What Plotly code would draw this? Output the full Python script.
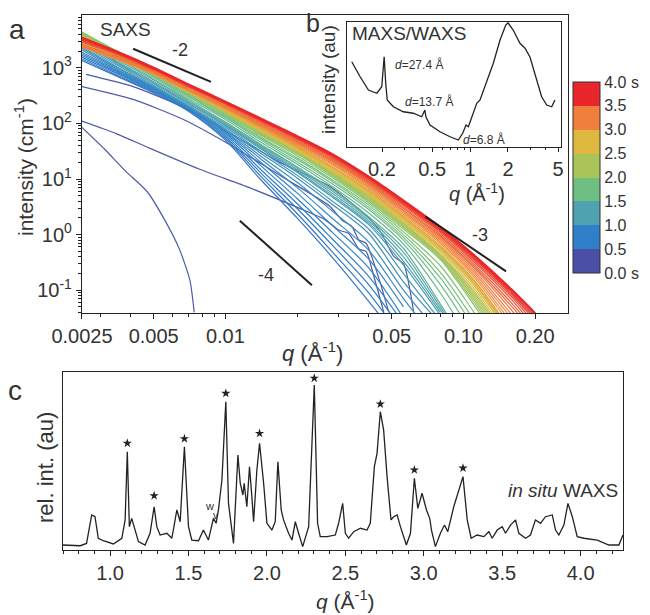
import plotly.graph_objects as go
from plotly.colors import sample_colorscale

W, H = 650, 615
OFF = 8   # page body margin, figure starts 8 px in
FONT = 'Arial, Liberation Sans, sans-serif'
TXT = '#333333'

# ---- panel a: SAXS growth curves ----
q_grid = [0.0025, 0.0035, 0.005, 0.007, 0.01, 0.014, 0.02, 0.028, 0.04, 0.056, 0.08, 0.11, 0.16, 0.22]

# time (s) of each later curve, log10 intensity read on q_grid
fan_times = [0.6, 0.65, 0.7, 0.75, 0.8, 0.85, 0.9, 0.95, 1.0, 1.07, 1.15, 1.22, 1.3, 1.4, 1.5,
             1.6, 1.7, 1.78, 1.85, 1.93, 2.0, 2.07, 2.15, 2.22, 2.3, 2.4, 2.5, 2.58, 2.65, 2.72,
             2.8, 2.9, 3.0, 3.08, 3.15, 3.22, 3.3, 3.4, 3.5, 3.57, 3.65, 3.72, 3.8, 3.85, 3.9, 4.0]
fan_logI = [
    [3.13, 2.85, 2.55, 2.22, 1.70, 1.00, 0.30, -0.40, -1.20, -2.0],
    [3.16, 2.87, 2.57, 2.23, 1.73, 1.06, 0.38, -0.30, -1.05, -1.9],
    [3.19, 2.90, 2.59, 2.25, 1.76, 1.12, 0.47, -0.18, -0.90, -1.75],
    [3.22, 2.92, 2.60, 2.26, 1.79, 1.18, 0.56, -0.07, -0.75, -1.6],
    [3.25, 2.94, 2.62, 2.28, 1.82, 1.25, 0.65, 0.05, -0.60, -1.5],
    [3.28, 2.96, 2.63, 2.28, 1.84, 1.31, 0.75, 0.17, -0.44, -1.3],
    [3.32, 2.98, 2.64, 2.29, 1.86, 1.37, 0.85, 0.30, -0.28, -1.15, -2.0],
    [3.35, 3.00, 2.65, 2.30, 1.88, 1.42, 0.94, 0.43, -0.13, -1.0, -1.8],
    [3.38, 3.02, 2.66, 2.30, 1.90, 1.47, 1.02, 0.55, 0.02, -0.85, -1.6],
    [3.41, 3.05, 2.68, 2.32, 1.93, 1.51, 1.07, 0.61, 0.10, -0.70, -1.55],
    [3.45, 3.08, 2.71, 2.35, 1.96, 1.55, 1.12, 0.68, 0.18, -0.55, -1.45],
    [3.48, 3.10, 2.73, 2.36, 1.97, 1.57, 1.14, 0.71, 0.21, -0.48, -1.40],
    [3.51, 3.12, 2.75, 2.38, 1.99, 1.59, 1.17, 0.75, 0.25, -0.40, -1.35, -2.2],
    [3.55, 3.15, 2.78, 2.40, 2.01, 1.61, 1.20, 0.79, 0.29, -0.32, -1.30, -2.2],
    [3.58, 3.18, 2.80, 2.42, 2.03, 1.63, 1.22, 0.82, 0.32, -0.25, -1.25, -2.2],
    [3.60, 3.21, 2.83, 2.45, 2.07, 1.67, 1.27, 0.87, 0.39, -0.17, -1.05, -2.0],
    [3.62, 3.23, 2.85, 2.48, 2.10, 1.71, 1.31, 0.92, 0.45, -0.10, -0.90, -1.80],
    [3.63, 3.25, 2.87, 2.50, 2.12, 1.74, 1.35, 0.96, 0.49, -0.05, -0.78, -1.65],
    [3.64, 3.27, 2.89, 2.52, 2.14, 1.76, 1.38, 0.99, 0.53, 0.00, -0.68, -1.52],
    [3.64, 3.29, 2.91, 2.54, 2.16, 1.79, 1.42, 1.03, 0.57, 0.05, -0.56, -1.38, -2.4],
    [3.64, 3.30, 2.93, 2.56, 2.18, 1.81, 1.45, 1.06, 0.60, 0.10, -0.45, -1.25, -2.3],
    [3.63, 3.30, 2.93, 2.57, 2.19, 1.83, 1.47, 1.08, 0.62, 0.13, -0.42, -1.20, -2.25],
    [3.61, 3.29, 2.93, 2.57, 2.20, 1.84, 1.48, 1.09, 0.64, 0.15, -0.40, -1.15, -2.2],
    [3.59, 3.28, 2.93, 2.57, 2.21, 1.85, 1.49, 1.10, 0.66, 0.17, -0.38, -1.11, -2.15],
    [3.57, 3.26, 2.92, 2.57, 2.21, 1.85, 1.49, 1.11, 0.67, 0.19, -0.37, -1.07, -2.1],
    [3.55, 3.24, 2.91, 2.56, 2.21, 1.86, 1.50, 1.12, 0.69, 0.21, -0.36, -1.03, -2.05],
    [3.52, 3.22, 2.90, 2.56, 2.21, 1.86, 1.50, 1.13, 0.70, 0.22, -0.35, -1.00, -2.0],
    [3.50, 3.21, 2.90, 2.57, 2.22, 1.88, 1.52, 1.15, 0.72, 0.25, -0.31, -0.95, -1.94],
    [3.47, 3.20, 2.89, 2.57, 2.23, 1.89, 1.54, 1.17, 0.74, 0.27, -0.28, -0.90, -1.88],
    [3.45, 3.19, 2.89, 2.57, 2.24, 1.90, 1.55, 1.19, 0.76, 0.29, -0.26, -0.87, -1.84],
    [3.42, 3.17, 2.88, 2.57, 2.24, 1.91, 1.56, 1.20, 0.77, 0.30, -0.24, -0.85, -1.80],
    [3.40, 3.16, 2.88, 2.58, 2.25, 1.92, 1.57, 1.22, 0.79, 0.32, -0.22, -0.82, -1.77],
    [3.38, 3.15, 2.88, 2.58, 2.26, 1.93, 1.58, 1.23, 0.80, 0.33, -0.20, -0.80, -1.75],
    [3.37, 3.15, 2.89, 2.59, 2.27, 1.95, 1.60, 1.26, 0.83, 0.36, -0.16, -0.75, -1.67],
    [3.37, 3.16, 2.90, 2.60, 2.28, 1.96, 1.62, 1.28, 0.85, 0.39, -0.13, -0.71, -1.60],
    [3.38, 3.17, 2.91, 2.61, 2.29, 1.97, 1.64, 1.30, 0.88, 0.42, -0.10, -0.67, -1.52, -2.3],
    [3.39, 3.19, 2.92, 2.62, 2.30, 1.98, 1.65, 1.32, 0.90, 0.44, -0.07, -0.63, -1.45, -2.2],
    [3.42, 3.21, 2.94, 2.64, 2.32, 2.00, 1.67, 1.34, 0.92, 0.47, -0.04, -0.59, -1.37, -2.1],
    [3.46, 3.24, 2.96, 2.66, 2.34, 2.02, 1.69, 1.36, 0.94, 0.49, -0.02, -0.56, -1.30, -2.0],
    [3.47, 3.25, 2.96, 2.66, 2.35, 2.04, 1.71, 1.38, 0.96, 0.52, 0.01, -0.52, -1.24, -1.95],
    [3.49, 3.26, 2.97, 2.67, 2.36, 2.05, 1.72, 1.40, 0.98, 0.54, 0.04, -0.48, -1.18, -1.9],
    [3.50, 3.26, 2.97, 2.67, 2.36, 2.06, 1.73, 1.41, 0.99, 0.55, 0.06, -0.45, -1.13, -1.82],
    [3.51, 3.27, 2.98, 2.68, 2.37, 2.07, 1.74, 1.42, 1.01, 0.57, 0.08, -0.42, -1.09, -1.75],
    [3.52, 3.27, 2.98, 2.68, 2.37, 2.07, 1.75, 1.43, 1.02, 0.58, 0.09, -0.40, -1.06, -1.70],
    [3.53, 3.28, 2.99, 2.69, 2.38, 2.08, 1.76, 1.44, 1.03, 0.59, 0.11, -0.39, -1.04, -1.65],
    [3.54, 3.29, 3.00, 2.70, 2.39, 2.09, 1.77, 1.45, 1.04, 0.61, 0.13, -0.36, -1.00, -1.6],
]

# first curves (before the fan), own q points
early_q = [
    [0.0025, 0.0031, 0.0038, 0.0047, 0.0055, 0.0064, 0.0071, 0.0074],
    [0.0025, 0.0035, 0.0048, 0.0078, 0.0126, 0.0204, 0.026, 0.030, 0.033, 0.0364, 0.039, 0.042, 0.0463],
    [0.0025, 0.0041, 0.0066, 0.0107, 0.0173, 0.0273, 0.031, 0.034, 0.0364, 0.039, 0.0442, 0.0486],
    [0.0026, 0.0041, 0.0066, 0.0107, 0.0173, 0.0273, 0.0401, 0.045, 0.0511, 0.056, 0.0618],
]
early_I = [
    [85, 35, 14, 5.9, 2.0, 0.56, 0.15, 0.04],
    [110, 65, 36, 15, 7.0, 3.0, 1.9, 1.2, 1.05, 0.55, 0.5, 0.18, 0.04],
    [460, 270, 120, 39, 11, 3.3, 1.8, 1.4, 0.8, 0.7, 0.16, 0.04],
    [760, 460, 200, 63, 19, 7.5, 2.0, 1.1, 0.4, 0.3, 0.04],
]

# slope guide lines (q, I)
guide_q = {'-2': [0.0041, 0.0087], '-4': [0.0115, 0.0231], '-3': [0.0693, 0.151]}
guide_I = {'-2': [2200, 560], '-4': [1.78, 0.123], '-3': [2.1, 0.218]}

# colour bar
cb_colors = ['#4b4fa6', '#2f7fc9', '#4fa3b0', '#6fbf82', '#a9c55a', '#dfb93f', '#f07f3c', '#e8262b']
cb_ticks = [0, 0.5, 1.0, 1.5, 2.0, 2.5, 3.0, 3.5, 4.0]
cb_text = ['0.0 s', '0.5', '1.0', '1.5', '2.0', '2.5', '3.0', '3.5', '4.0 s']

# ---- panel b: MAXS/WAXS inset ----
b_q = [0.115, 0.134, 0.156, 0.182, 0.199, 0.208, 0.214, 0.220, 0.246, 0.295, 0.354, 0.413, 0.438,
       0.446, 0.481, 0.577, 0.693, 0.807, 0.874, 0.929, 0.970, 1.06, 1.13, 1.2, 1.36, 1.53, 1.73,
       1.92, 2.0, 2.2, 2.49, 2.73, 2.99, 3.16, 3.38, 3.70, 4.06, 4.45, 4.72]
b_I = [68.2, 56.2, 45.6, 43, 48.2, 72.2, 51, 37.6, 32.2, 28.2, 27, 24.2, 29.6,
       24.2, 17.6, 12.2, 8.2, 5.6, 11, 17.6, 16.2, 27, 35, 37.6, 53.6, 67, 85.6,
       97.6, 99.4, 93.6, 83, 79, 72, 64, 53.6, 40.2, 33.6, 32.2, 37.6]

# ---- panel c: in situ WAXS ----
c_q = [0.70, 0.81, 0.85, 0.883, 0.904, 0.925, 0.957, 1.021, 1.075, 1.096, 1.11, 1.123, 1.138, 1.153,
       1.181, 1.223, 1.255, 1.281, 1.298, 1.319, 1.362, 1.394, 1.426, 1.447, 1.474, 1.50, 1.521,
       1.564, 1.595, 1.627, 1.659, 1.676, 1.691, 1.713, 1.738, 1.755, 1.787, 1.815, 1.83, 1.847,
       1.855, 1.872, 1.889, 1.904, 1.915, 1.936, 1.953, 1.979, 2.0, 2.032, 2.053, 2.07, 2.091,
       2.106, 2.138, 2.16, 2.181, 2.202, 2.228, 2.266, 2.302, 2.323, 2.34, 2.383, 2.436, 2.457,
       2.483, 2.50, 2.521, 2.553, 2.596, 2.638, 2.659, 2.685, 2.702, 2.723, 2.744, 2.766, 2.791,
       2.808, 2.83, 2.851, 2.889, 2.915, 2.94, 2.962, 2.989, 3.017, 3.038, 3.049, 3.074, 3.106,
       3.132, 3.153, 3.191, 3.25, 3.277, 3.302, 3.34, 3.383, 3.415, 3.436, 3.468, 3.50, 3.521,
       3.553, 3.585, 3.606, 3.649, 3.68, 3.712, 3.744, 3.776, 3.819, 3.84, 3.861, 3.893, 3.919,
       3.947, 3.978, 4.021, 4.106, 4.18, 4.244, 4.27]
c_I = [2.8, 2.4, 3.7, 19.7, 18.7, 6.6, 5.2, 3.4, 6.6, 16.9, 55.2, 13.1, 17.8, 13.1,
       4.7, 2.8, 9.4, 24.3, 13.1, 8.4, 9.4, 6.6, 22.5, 15.9, 58, 13.1, 5.6,
       5.2, 11.2, 5.6, 17.8, 15, 22.5, 39.3, 83.3, 26.2, 3.7, 53.4, 37.5, 30.9,
       37.5, 24.3, 46.8, 30, 15.9, 44.9, 60, 37.5, 15, 11.2, 15.9, 49.6, 22.5,
       16.9, 9.4, 5.6, 15.9, 9.4, 1.9, 13.1, 92.7, 15, 7.5, 7.5, 8.4, 15,
       26.2, 9.4, 6.6, 10.3, 12.2, 11.2, 15, 46.8, 54.3, 77.7, 67.4, 41.2, 16.9,
       18.7, 19.7, 13.1, 2.8, 9.4, 40.3, 23.4, 31.9, 22.5, 17.8, 11.2, 1.9, 9.4,
       14, 10.3, 24.3, 41.2, 16.9, 6.6, 8.4, 7.5, 10.3, 6.6, 11.2, 13.1, 9.4,
       14, 16.9, 9.4, 6.6, 8.4, 16.9, 15, 18.7, 19.7, 11.2, 8.4, 14, 26.2,
       18.7, 7.5, 6.6, 5.6, 2.8, 2.8, 8.4]
star_q = [1.11, 1.281, 1.474, 1.738, 1.953, 2.302, 2.723, 2.94, 3.25]
star_I = [60, 30.5, 62.5, 88, 65.5, 96.5, 82, 45, 46]

assert len(c_q) == len(c_I) and len(b_q) == len(b_I) and len(fan_times) == len(fan_logI)


def px(x):
    return (x - OFF) / W


def py(y):
    return 1 - (y - OFF) / H


line_scale = [[0.0, cb_colors[0]], [0.1875, cb_colors[1]], [0.3125, cb_colors[2]],
              [0.4375, cb_colors[3]], [0.5625, cb_colors[4]], [0.6875, cb_colors[5]],
              [0.8125, cb_colors[6]], [1.0, cb_colors[7]]]

fig = go.Figure()

for qs, Is in zip(early_q, early_I):
    fig.add_trace(go.Scatter(x=qs, y=Is, mode='lines',
                             line=dict(color='#4f5aa8', width=1.2, shape='spline', smoothing=0.6),
                             xaxis='x', yaxis='y', hoverinfo='skip', showlegend=False))

for t, logs in zip(fan_times, fan_logI):
    col = sample_colorscale(line_scale, t / 4.0)[0]
    w = 2.4 if t == 4.0 else 1.2
    fig.add_trace(go.Scatter(x=q_grid[:len(logs)], y=[10 ** v for v in logs], mode='lines',
                             line=dict(color=col, width=w, shape='spline', smoothing=0.8),
                             xaxis='x', yaxis='y', hoverinfo='skip', showlegend=False))

for k in guide_q:
    fig.add_trace(go.Scatter(x=guide_q[k], y=guide_I[k], mode='lines',
                             line=dict(color='#222222', width=2), xaxis='x', yaxis='y',
                             hoverinfo='skip', showlegend=False))

# discrete colour bar via a dummy trace
stops = []
for i, c in enumerate(cb_colors):
    stops.append([i / 8, c])
    stops.append([(i + 1) / 8, c])
fig.add_trace(go.Scatter(x=[None], y=[None], mode='markers', xaxis='x', yaxis='y', showlegend=False,
                         marker=dict(color=[0], colorscale=stops, cmin=0, cmax=4, showscale=True,
                                     colorbar=dict(x=px(573), xanchor='left', y=py(82), yanchor='top',
                                                   len=191, lenmode='pixels', thickness=27,
                                                   thicknessmode='pixels', xpad=0, ypad=0,
                                                   outlinewidth=1, outlinecolor='#333333',
                                                   tickvals=cb_ticks, ticktext=cb_text, ticks='',
                                                   tickfont=dict(size=16, color=TXT, family=FONT)))))

fig.add_trace(go.Scatter(x=b_q, y=b_I, mode='lines', line=dict(color='#222222', width=1.3),
                         xaxis='x2', yaxis='y2', hoverinfo='skip', showlegend=False))

fig.add_trace(go.Scatter(x=c_q, y=c_I, mode='lines', line=dict(color='#222222', width=1.3),
                         xaxis='x3', yaxis='y3', hoverinfo='skip', showlegend=False))
fig.add_trace(go.Scatter(x=star_q, y=star_I, mode='markers',
                         marker=dict(symbol='star', size=7, color='#222222'),
                         xaxis='x3', yaxis='y3', hoverinfo='skip', showlegend=False))

axis_common = dict(showline=True, mirror=True, linecolor='#222222', linewidth=1.3, showgrid=False,
                   zeroline=False, automargin=False, tickcolor='#222222',
                   tickfont=dict(size=20, color=TXT, family=FONT))

fig.update_layout(
    width=W, height=H, margin=dict(l=0, r=0, t=0, b=0),
    paper_bgcolor='white', plot_bgcolor='white', showlegend=False,
    font=dict(family=FONT, color=TXT),
    xaxis=dict(domain=[px(82), px(568)], anchor='y', type='log', range=[-2.602, -0.561],
               tickvals=[0.0025, 0.005, 0.01, 0.05, 0.1, 0.2],
               ticktext=['0.0025', '0.005', '0.01', '0.05', '0.10', '0.20'],
               ticks='outside', ticklen=5, minor=dict(ticks='outside', ticklen=3, dtick='D1'),
               **axis_common),
    yaxis=dict(domain=[py(313), py(15)], anchor='x', type='log', range=[-1.41, 3.95],
               tickvals=[0.1, 1, 10, 100, 1000],
               ticktext=['10<sup>-1</sup>', '10<sup>0</sup>', '10<sup>1</sup>', '10<sup>2</sup>', '10<sup>3</sup>'],
               ticks='outside', ticklen=5, minor=dict(ticks='outside', ticklen=3, dtick='D1'),
               **axis_common),
    xaxis2=dict(domain=[px(347), px(561)], anchor='y2', type='log', range=[-0.977, 0.722],
                tickvals=[0.2, 0.5, 1, 2, 5], ticktext=['0.2', '0.5', '1', '2', '5'],
                ticks='outside', ticklen=4, minor=dict(ticks='outside', ticklen=2, dtick='D1'),
                **axis_common),
    yaxis2=dict(domain=[py(147), py(22)], anchor='x2', range=[0, 100], showticklabels=False,
                ticks='', **axis_common),
    xaxis3=dict(domain=[px(63), px(623)], anchor='y3', range=[0.70, 4.27], tick0=1.0, dtick=0.5,
                tickformat='.1f', ticks='outside', ticklen=5,
                minor=dict(ticks='outside', ticklen=3, dtick=0.1), **axis_common),
    yaxis3=dict(domain=[py(550), py(372)], anchor='x3', range=[0, 100], showticklabels=False,
                ticks='', **axis_common),
)

ann = [
    ('a', 17, 30, 28, 0), ('c', 15, 390, 28, 0),
    ('SAXS', 125, 29, 19, 0), ('-2', 180, 50, 18, 0), ('-4', 266, 275, 18, 0), ('-3', 480, 235, 18, 0),
    ('MAXS/WAXS', 409, 33, 19, 0),
    ('<i>d</i>=27.4 Å', 419, 65, 12, 0), ('<i>d</i>=13.7 Å', 429, 102, 12, 0), ('<i>d</i>=6.8 Å', 484, 139, 12, 0),
    ('<i>q</i> (Å<sup>-1</sup>)', 477, 192, 20, 0),
    ('intensity (au)', 328, 80, 19, -90),
    ('<i>q</i> (Å<sup>-1</sup>)', 312, 352, 22, 0),
    ('intensity (cm<sup>-1</sup>)', 24, 167, 21, -90),
    ('<i>q</i> (Å<sup>-1</sup>)', 345, 600, 21, 0),
    ('rel. int. (au)', 45, 468, 22, -90),
    ('w', 209, 506, 11, 0), ('v', 215, 515, 10, 0),
]
for text, x, y, size, ang in ann:
    kw = dict(textangle=ang) if ang else {}
    fig.add_annotation(text=text, x=px(x), y=py(y), xref='paper', yref='paper', showarrow=False,
                       xanchor='center', yanchor='middle',
                       font=dict(size=size, color=TXT, family=FONT), **kw)
fig.add_annotation(text='b', x=px(313), y=py(OFF), xref='paper', yref='paper', showarrow=False,
                   xanchor='center', yanchor='top', borderpad=0,
                   font=dict(size=25, color=TXT, family=FONT))
fig.add_annotation(text='<i>in situ</i> WAXS', x=px(620), y=py(490), xref='paper', yref='paper',
                   showarrow=False, xanchor='right', yanchor='middle',
                   font=dict(size=19, color=TXT, family=FONT))

fig.write_html("out.html")
